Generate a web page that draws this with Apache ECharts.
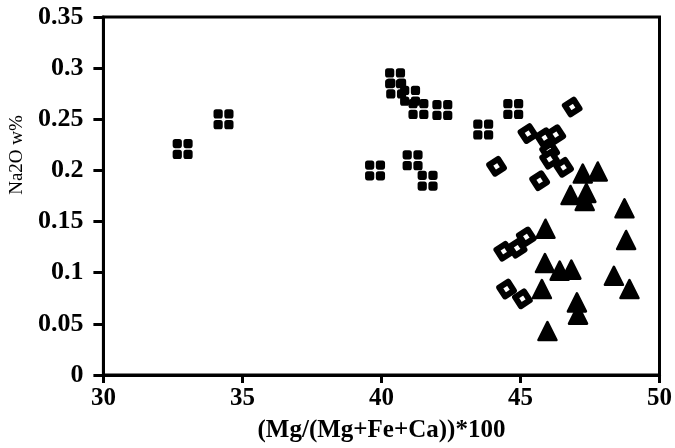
<!DOCTYPE html>
<html>
<head>
<meta charset="utf-8">
<script src="https://cdn.jsdelivr.net/npm/echarts@6/dist/echarts.min.js"></script>
<style>html,body{margin:0;padding:0;background:#fff}#c{width:675px;height:448px}</style>
</head>
<body>
<div id="c"></div>
<script>
var xTicks = [30, 35, 40, 45, 50];
var yTicks = [0, 0.05, 0.1, 0.15, 0.2, 0.25, 0.3, 0.35];
var xTitle = '(Mg/(Mg+Fe+Ca))*100';
var yTitle = 'Na2O w%';

var squareX = [32.85, 34.32, 39.77, 40.49, 40.53, 41.03, 41.12, 41.33, 41.66, 42.19, 43.66, 44.74];
var squareY = [0.221, 0.250, 0.200, 0.290, 0.280, 0.273, 0.210, 0.260, 0.190, 0.259, 0.240, 0.260];

var diamondX = [46.86, 45.27, 45.87, 46.27, 46.05, 46.05, 46.55, 44.14, 45.69, 44.40, 44.88, 45.21, 44.50, 45.07];
var diamondY = [0.262, 0.236, 0.232, 0.235, 0.219, 0.211, 0.203, 0.204, 0.190, 0.121, 0.124, 0.135, 0.084, 0.0745];

var triangleX = [47.78, 47.24, 46.80, 47.37, 47.31, 48.74, 48.80, 45.90, 45.88, 46.41, 46.83, 45.77, 48.36, 48.92, 47.03, 47.07, 45.97];
var triangleY = [0.199, 0.197, 0.176, 0.178, 0.170, 0.163, 0.132, 0.143, 0.1095, 0.102, 0.103, 0.084, 0.097, 0.084, 0.071, 0.059, 0.043];

function pairs(xs, ys) { return xs.map(function (x, i) { return [x, ys[i]]; }); }

function rs(x, y) {
  return 'M' + (x + 2.5) + ',' + y + 'h4q2.5,0 2.5,2.5v4q0,2.5 -2.5,2.5h-4q-2.5,0 -2.5,-2.5v-4q0,-2.5 2.5,-2.5z';
}
var quadPath = 'path://' + rs(0, 0) + rs(10.5, 0) + rs(0, 10.5) + rs(10.5, 10.5);

var font = 'Liberation Serif, Times New Roman, serif';
var chart = echarts.init(document.getElementById('c'));
chart.setOption({
  animation: false,
  backgroundColor: '#fff',
  grid: { left: 103, right: 15, top: 17, bottom: 63, show: true, borderColor: '#000', borderWidth: 3 },
  xAxis: {
    type: 'value', min: xTicks[0], max: xTicks[xTicks.length - 1], interval: 5,
    name: xTitle, nameLocation: 'middle', nameGap: 43,
    nameTextStyle: { fontFamily: font, fontWeight: 'bold', fontSize: 25, color: '#000' },
    axisLine: { lineStyle: { color: '#000', width: 3 } },
    axisTick: { length: 8, lineStyle: { color: '#000', width: 3 } },
    axisLabel: { margin: 11, fontFamily: font, fontWeight: 'bold', fontSize: 25, color: '#000' },
    splitLine: { show: false }
  },
  yAxis: {
    type: 'value', min: yTicks[0], max: yTicks[yTicks.length - 1], interval: 0.05,
    name: yTitle, nameLocation: 'middle', nameGap: 76, nameRotate: 90,
    nameTextStyle: { fontFamily: font, fontSize: 19, color: '#000', padding: [0, 0, 0, 82] },
    axisLine: { lineStyle: { color: '#000', width: 3 } },
    axisTick: { length: 10, lineStyle: { color: '#000', width: 3 } },
    axisLabel: { margin: 20, fontFamily: font, fontWeight: 'bold', fontSize: 26, color: '#000' },
    splitLine: { show: false }
  },
  series: [
    { type: 'scatter', data: pairs(squareX, squareY), symbol: quadPath, symbolSize: 20,
      itemStyle: { color: '#000', opacity: 1 } },
    { type: 'scatter', data: pairs(diamondX, diamondY), symbol: 'diamond', symbolSize: 15, symbolRotate: -12,
      itemStyle: { color: '#fff', borderColor: '#000', borderWidth: 6, borderJoin: 'round', opacity: 1 } },
    { type: 'scatter', data: pairs(triangleX, triangleY), symbol: 'triangle', symbolSize: 18,
      itemStyle: { color: '#000', borderColor: '#000', borderWidth: 2.5, borderJoin: 'round', opacity: 1 } }
  ]
});
</script>
</body>
</html>
